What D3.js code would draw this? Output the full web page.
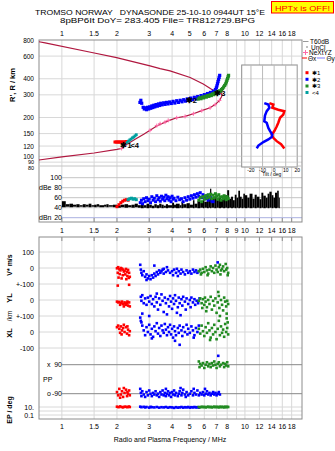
<!DOCTYPE html>
<html><head><meta charset="utf-8">
<script src="https://cdn.jsdelivr.net/npm/d3@7"></script>
<style>body{margin:0;background:#fff} text{font-family:"Liberation Sans",Arial,sans-serif;fill:#000}</style>
</head><body><svg id="c" width="335" height="451"></svg>
<script>
// ---------- tick labels ----------
const freqTicks = [1,1.5,2,3,4,5,6,7,8,10,12,14,16,18];
const freqTicksMid = [1,1.5,2,3,4,5,6,7,8,9,10,12,14,16,18];
const heightTicks = [800,600,400,300,200,150,120,100,90,80];
const dbTicks = [100,80,60,40,20];
const tiltTicks = [-20,-10,0,10,20];

// ---------- top panel: profile (freq MHz, height km) ----------
const profile = [[0.75,93.5],[1.0,99],[1.5,106],[2.0,113],[2.12,115],[2.21,121],[2.5,135],[2.8,148],[3.03,159],[3.3,172],[3.66,184],[3.9,191],[4.24,199],[4.71,204],[5.23,214],[5.81,226],[6.45,238],[6.87,252],[7.25,270],[7.45,290],[7.5,300],[7.4,308],[7.0,316],[6.5,335],[5.92,364],[5.02,409],[3.9,461],[3.44,480],[3.03,503],[1.99,584],[1.48,637],[0.81,761],[0.75,775]];
const neXtYZ = [[2.12,115],[2.21,122],[3.03,159],[3.3,173],[3.44,179],[3.66,184],[3.81,190],[4.24,199],[4.71,204],[5.23,214],[5.81,226],[6.45,238],[6.87,252],[7.25,271]];
const echo1 = [[1.95,129],[1.98,129],[2.01,129],[2.04,129],[2.07,129],[2.1,129],[2.13,129],[2.16,129],[2.19,129],[2.22,129],[2.25,130]];
const echo4 = [[2.27,128],[2.31,131],[2.35,134],[2.39,136],[2.43,139],[2.47,141],[2.51,144],[2.55,147]];
const echo2 = [[2.67,262],[2.7,272],[2.73,258],[2.78,240],[2.82,233],[2.86,238],[2.9,230],[2.94,240],[2.98,233],[3.02,242],[3.06,236],[3.1,246],[3.14,239],[3.18,249],[3.22,242],[3.27,252],[3.32,245],[3.37,255],[3.42,248],[3.47,258],[3.53,251],[3.6,260],[3.66,253],[3.73,262],[3.8,255],[3.88,264],[3.96,257],[4.05,267],[4.14,259],[4.24,270],[4.33,262],[4.43,272],[4.53,265],[4.63,275],[4.73,268],[4.84,279],[4.95,271],[5.06,283],[5.17,275],[5.29,287],[5.4,279],[5.52,291],[5.64,283],[5.76,296],[5.88,288],[6.0,301],[6.12,293],[6.24,307],[6.36,298],[6.48,313],[6.6,304],[6.72,320],[6.84,311],[6.9,330],[6.98,340],[7.03,352],[7.08,366],[7.13,380],[7.18,395],[7.23,410],[7.28,425]];
const echo3 = [[5.55,278],[5.65,284],[5.75,280],[5.85,288],[5.95,284],[6.05,292],[6.15,288],[6.25,296],[6.35,292],[6.45,300],[6.55,296],[6.65,305],[6.75,301],[6.85,310],[6.95,306],[7.05,316],[7.15,312],[7.25,322],[7.35,320],[7.45,330],[7.55,336],[7.65,345],[7.75,355],[7.85,365],[7.92,378],[7.98,390],[8.04,402],[8.1,415],[8.14,425]];
const markers = [["✱1",2.24,122],["<4",2.5,122],["✱2",5.1,272],["✱3",7.3,311]];
// tilt inset (deg, km)
const tiltX = [[-4.1,259],[-0.7,252],[-1.6,238],[3.6,230],[8.8,224],[7.9,211],[5.1,199],[3.6,182],[2.2,170],[0.2,157],[-2.1,147],[-0.7,139],[2.2,131],[6,124],[8.8,115]];
const tiltY = [[-8.5,259],[-5,252],[-4.1,238],[-6.4,224],[-7.9,207],[-8.5,187],[-6.4,182],[-5,166],[-3.5,157],[-1.6,147],[-2.1,141],[-5,135],[-9.3,129],[-13.6,121],[-15,115]];

// ---------- amplitude panel (freq, dB) ----------
const noise = [[1.0,41,53],[1.05,42,47],[1.1,41,48],[1.15,42,46],[1.2,41,47],[1.25,42,45],[1.3,41,47],[1.35,42,46],[1.4,41,48],[1.45,42,45],[1.5,41,46],[1.55,42,47],[1.6,41,45],[1.7,42,46],[1.75,41,47],[1.8,42,45],[1.9,41,46],[2.0,40,45],[2.1,41,46],[2.2,40,47],[2.3,41,45],[2.4,40,46],[2.5,41,48],[2.6,40,45],[2.7,39,47],[2.8,40,45],[2.9,39,48],[3.0,40,46],[3.1,39,44],[3.2,40,47],[3.3,39,45],[3.4,40,48],[3.5,39,46],[3.6,40,44],[3.7,39,47],[3.8,40,45],[4.0,39,50],[4.1,40,46],[4.2,39,48],[4.4,40,45],[4.5,39,52],[4.6,40,47],[4.8,39,49],[5.0,40,46],[5.2,39,55],[5.3,40,48],[5.5,39,53],[5.7,40,50],[5.9,39,58],[6.0,40,52],[6.2,39,60],[6.35,40,56],[6.45,39,78],[6.55,40,58],[6.8,39,62],[7.0,40,55],[7.2,39,63],[7.4,40,57],[7.6,39,60],[7.8,40,65],[8.0,39,75],[8.2,40,58],[8.4,39,62],[8.6,40,55],[8.8,39,66],[9.0,40,60],[9.2,39,74],[9.4,40,62],[9.6,39,58],[9.8,40,68],[10.0,39,65],[10.3,40,60],[10.6,39,68],[11.0,40,58],[11.3,39,66],[11.6,40,62],[12.0,39,57],[12.3,40,70],[12.6,39,64],[13.0,40,60],[13.3,39,68],[13.6,40,72],[14.0,39,65],[14.3,40,60],[14.6,39,70],[15.0,40,74],[15.3,39,60],[15.5,39,39]];
const ampRed = [[2.0,42],[2.05,46],[2.1,50],[2.15,53],[2.2,55],[2.25,56],[2.3,55]];
const ampCyan = [[2.3,56],[2.35,58],[2.4,59],[2.45,57],[2.5,58],[2.55,56]];
const ampBlue = [[2.68,50],[2.72,55],[2.76,48],[2.8,58],[2.85,52],[2.9,60],[2.95,54],[3.0,57],[3.05,50],[3.1,62],[3.15,55],[3.2,59],[3.25,52],[3.3,64],[3.35,56],[3.4,60],[3.45,53],[3.5,63],[3.55,57],[3.6,61],[3.65,54],[3.7,65],[3.75,58],[3.8,62],[3.85,55],[3.9,60],[3.95,52],[4.0,63],[4.05,57],[4.1,59],[4.2,54],[4.3,61],[4.4,56],[4.5,58],[4.6,52],[4.7,60],[4.8,55],[4.9,62],[5.0,57],[5.1,64],[5.2,59],[5.3,66],[5.4,61],[5.5,68],[5.6,63],[5.7,70],[5.8,60],[5.9,66],[6.0,62],[6.1,58],[6.2,64],[6.3,55],[6.5,60],[6.6,53],[6.7,52]];
const ampGreen = [[5.6,55],[5.7,60],[5.8,52],[5.9,62],[6.0,57],[6.1,64],[6.2,59],[6.3,66],[6.4,61],[6.5,67],[6.6,58],[6.7,65],[6.8,60],[6.9,68],[7.0,63],[7.1,57],[7.2,66],[7.3,61],[7.4,55],[7.5,62],[7.6,58],[7.7,64],[7.8,60],[7.9,56],[8.0,62],[8.1,58]];

// ---------- lower panel ----------
const vRed = [[2.0,-2],[2.03,5],[2.06,-8],[2.1,0],[2.13,-4],[2.16,-10],[2.2,-18],[2.24,-6],[2.27,-25],[2.3,-12],[2.33,-30],[2.02,-30],[2.07,-38],[2.15,-45],[2.22,-40],[2.28,-50],[2.35,-55],[2.04,-60],[2.12,-65],[2.25,-70],[2.32,-62],[2.02,-110],[2.33,-105],[2.18,-22],[2.09,-15]];
const vBlue = [[2.68,20],[2.7,-10],[2.72,-30],[2.75,-45],[2.8,-20],[2.85,-55],[2.9,-40],[2.95,-65],[3.0,-50],[3.05,-70],[3.1,-45],[3.15,-60],[3.2,-35],[3.25,-50],[3.3,-25],[3.35,-40],[3.4,-15],[3.45,-30],[3.5,-20],[3.55,-10],[3.6,-35],[3.7,-25],[3.75,5],[3.8,-15],[3.9,-30],[4.0,-20],[4.05,-45],[4.1,-10],[4.2,-30],[4.3,-50],[4.35,-20],[4.45,-35],[4.5,-10],[4.6,-25],[4.7,-40],[4.8,-15],[4.9,-30],[5.0,-20],[5.1,-35],[5.2,-10],[5.3,-25],[5.4,-15],[5.5,-30],[5.6,-20],[3.2,15],[2.9,-75],[3.6,-5],[4.25,-5],[7.1,35]];
const vGreen = [[5.6,-20],[5.7,-10],[5.8,-30],[5.9,-5],[6.0,-25],[6.1,5],[6.2,-15],[6.3,-35],[6.4,-10],[6.5,10],[6.6,-20],[6.7,0],[6.8,-30],[6.9,15],[7.0,-10],[7.1,-25],[7.2,5],[7.3,20],[7.4,-15],[7.5,-5],[7.6,10],[7.7,-20],[7.85,25],[7.9,-10],[8.0,0],[8.1,-30],[8.05,-45],[5.75,-40],[6.25,-45],[7.35,-40]];
const ylRed = [[2.0,-10],[2.03,-15],[2.06,-12],[2.1,-20],[2.13,-10],[2.16,-25],[2.2,-15],[2.24,-30],[2.27,-20],[2.3,-35],[2.33,-15],[2.35,-40],[2.08,-30],[2.18,-40],[2.28,-10],[2.22,-22]];
const ylBlue = [[2.7,20],[2.72,-5],[2.75,30],[2.8,-20],[2.85,10],[2.9,-30],[2.95,15],[3.0,-10],[3.05,25],[3.1,-25],[3.15,5],[3.2,-40],[3.25,20],[3.3,-15],[3.35,-60],[3.4,10],[3.45,-30],[3.5,35],[3.55,-5],[3.6,-75],[3.65,15],[3.7,-20],[3.75,-90],[3.8,5],[3.85,-40],[3.9,25],[3.95,-10],[4.0,-55],[4.05,10],[4.1,-25],[4.15,30],[4.2,-5],[4.3,-45],[4.35,15],[4.4,-20],[4.5,5],[4.55,-35],[4.6,20],[4.7,-10],[4.75,-60],[4.8,10],[4.9,-25],[5.0,0],[5.05,-45],[5.1,15],[5.2,-15],[5.3,5],[5.35,-30],[5.45,-5],[5.55,-20],[5.65,10],[3.0,-100],[2.75,-85],[4.25,-80],[3.3,40],[4.45,-95]];
const ylGreen = [[5.6,-5],[5.7,10],[5.8,-20],[5.9,5],[6.0,-30],[6.05,15],[6.1,-10],[6.2,-45],[6.3,0],[6.4,-25],[6.5,20],[6.6,-60],[6.7,-5],[6.8,-35],[6.9,10],[7.0,-80],[7.1,-15],[7.2,25],[7.25,-50],[7.3,-100],[7.4,0],[7.5,-30],[7.6,-65],[7.7,15],[7.8,-10],[7.9,-40],[8.0,-5],[8.1,-25],[7.15,50],[6.15,-70],[5.85,-50],[7.95,-85]];
const xlRed = [[2.0,30],[2.03,40],[2.06,20],[2.1,35],[2.13,10],[2.16,25],[2.2,0],[2.24,30],[2.27,-10],[2.3,15],[2.33,-20],[2.35,5],[2.08,-5],[2.18,45],[2.28,35],[2.12,-15]];
const xlBlue = [[2.68,90],[2.7,70],[2.72,60],[2.75,40],[2.8,10],[2.85,-20],[2.9,30],[2.95,0],[3.0,45],[3.05,-15],[3.1,20],[3.15,-30],[3.2,35],[3.25,5],[3.3,55],[3.35,-10],[3.4,25],[3.45,-25],[3.5,40],[3.55,10],[3.6,-5],[3.65,50],[3.7,15],[3.75,-20],[3.8,30],[3.85,0],[3.9,45],[3.95,-15],[4.0,20],[4.05,-35],[4.1,35],[4.15,5],[4.2,-20],[4.3,25],[4.35,-5],[4.4,40],[4.5,10],[4.55,-25],[4.6,30],[4.7,0],[4.8,45],[4.85,-15],[4.9,20],[5.0,-5],[5.1,35],[5.2,10],[5.3,-20],[5.4,25],[5.5,0],[5.6,40],[4.15,-55],[4.4,-80],[3.1,-40],[5.25,-35]];
const xlGreen = [[5.6,20],[5.7,-10],[5.8,40],[5.9,5],[6.0,-25],[6.1,30],[6.2,-5],[6.3,55],[6.4,10],[6.5,-35],[6.6,25],[6.7,-15],[6.8,45],[6.9,0],[7.0,-45],[7.1,20],[7.2,70],[7.3,-20],[7.4,35],[7.5,-5],[7.6,15],[7.7,-30],[7.8,50],[7.9,0],[8.0,25],[8.1,-15],[7.95,85],[6.45,-50],[8.05,60]];
const ppGreen = [[5.6,110],[5.65,75],[5.7,95],[5.8,85],[5.9,100],[6.0,70],[6.1,90],[6.2,105],[6.3,80],[6.4,95],[6.5,75],[6.6,100],[6.7,85],[6.8,110],[6.9,90],[7.0,70],[7.1,95],[7.2,105],[7.3,80],[7.4,90],[7.6,100],[7.7,75],[7.8,95],[7.9,85],[8.0,105],[8.1,80]];
const ppRed = [[2.0,-80],[2.03,-100],[2.06,-60],[2.1,-95],[2.13,-75],[2.16,-110],[2.2,-85],[2.24,-65],[2.27,-105],[2.3,-90],[2.33,-70],[2.35,-100],[2.08,-115],[2.18,-55],[2.28,-80]];
const ppBlue = [[2.68,-60],[2.7,-85],[2.72,-105],[2.75,-75],[2.8,-95],[2.85,-110],[2.9,-80],[2.95,-100],[3.0,-70],[3.05,-90],[3.1,-105],[3.15,-85],[3.2,-95],[3.25,-75],[3.3,-100],[3.35,-90],[3.4,-110],[3.45,-80],[3.5,-95],[3.55,-70],[3.6,-100],[3.65,-85],[3.7,-105],[3.75,-90],[3.8,-75],[3.85,-100],[3.9,-85],[3.95,-110],[4.0,-80],[4.05,-95],[4.1,-70],[4.15,-100],[4.2,-85],[4.3,-105],[4.35,-90],[4.4,-75],[4.5,-100],[4.55,-85],[4.6,-65],[4.7,-95],[4.75,-110],[4.8,-80],[4.9,-100],[5.0,-90],[5.1,-75],[5.2,-100],[5.3,-85],[5.4,-95],[5.5,-70],[5.6,-100],[5.7,-85],[5.8,-95],[5.9,-80],[6.0,-100],[6.1,-90],[6.2,-75],[6.3,-95],[6.4,-85],[6.5,-100],[6.6,-90],[6.7,-80],[6.8,-95],[6.9,-85],[7.0,-100],[7.1,-90],[7.2,-80],[7.3,-95],[3.7,-60],[4.45,-55],[5.25,-60],[6.05,-60],[7.15,145]];
const epRed = [[2.0,12],[2.04,9],[2.08,14],[2.12,10],[2.16,8],[2.2,12],[2.24,11],[2.28,9],[2.32,13],[2.35,10]];
const epBlue = [[2.68,12],[2.72,9],[2.8,11],[2.85,8],[2.9,10],[3.0,7],[3.05,11],[3.1,9],[3.2,8],[3.3,10],[3.4,7],[3.5,9],[3.6,8],[3.7,10],[3.8,7],[3.9,9],[4.0,8],[4.1,6],[4.2,9],[4.3,7],[4.4,8],[4.5,10],[4.6,7],[4.7,9],[4.8,8],[4.9,10],[5.0,7],[5.1,9],[5.2,8],[5.3,10],[5.4,8],[5.5,9],[5.6,7]];
const epGreen = [[5.6,10],[5.7,8],[5.8,12],[5.9,9],[6.0,11],[6.1,8],[6.2,10],[6.3,12],[6.4,9],[6.5,11],[6.6,8],[6.7,10],[6.8,12],[6.9,9],[7.0,11],[7.1,10],[7.2,8],[7.3,12],[7.4,9],[7.5,11],[7.6,10],[7.7,8],[7.8,12],[7.9,9],[8.0,11],[8.1,10]];

// ---------- colours ----------
const RED="#ff0000", BLUE="#0000ff", GREEN="#228b22", CYAN="#00a0a0", PROF="#b0173f", PINK="#ff6aa8";
const GRID="#d8d8d8", FRAME="#8c8c8c";

// ---------- scales ----------
const svg = d3.select("#c");
const x = d3.scaleLog().domain([0.75,20.5]).range([39,302]);
const yH = d3.scaleLog().domain([84,800]).range([166,40]);
const yDb = d3.scaleLinear().domain([20,100]).range([217.7,177.7]);
const yV = d3.scaleLinear().domain([-100,100]).range([284,252]);
const yYL = d3.scaleLinear().domain([-100,100]).range([316,284]);
const yXL = d3.scaleLinear().domain([-100,100]).range([348,316]);
const yPP = d3.scaleLinear().domain([-90,90]).range([393.7,364.7]);
const yEP = d3.scaleLog().domain([0.1,10]).range([415,407]);
const xT = d3.scaleLinear().domain([-28,20]).range([241.7,297.3]);

function line(g,x1,y1,x2,y2,c,w){g.append("line").attr("x1",x1).attr("y1",y1).attr("x2",x2).attr("y2",y2).attr("stroke",c).attr("stroke-width",w||1);}
function txt(g,s,tx,ty,size,anchor){return g.append("text").attr("x",tx).attr("y",ty).attr("font-size",size).attr("text-anchor",anchor||"start").text(s);}
function squares(g,data,fx,fy,color,size){
  g.selectAll(null).data(data).enter().append("rect")
   .attr("x",d=>fx(d[0])-size/2).attr("y",d=>fy(d[1])-size/2)
   .attr("width",size).attr("height",size).attr("fill",color);
}

// ---------- title ----------
const g0 = svg.append("g");
txt(g0,"TROMSO NORWAY   DYNASONDE 25-10-10 0944UT 15°E",35,14.5,7.8).style("white-space","pre").attr("textLength",230).attr("lengthAdjust","spacingAndGlyphs");
txt(g0,"8pBP6It DoY= 283.405 File= TR812729.BPG",60,23,7.8).style("white-space","pre").attr("textLength",195).attr("lengthAdjust","spacingAndGlyphs");
g0.append("rect").attr("x",271.5).attr("y",1.5).attr("width",62).attr("height",11.5).attr("fill","#ffff00").attr("stroke","#ff0000").attr("stroke-width",1);
txt(g0,"HPTx is OFF!",302.5,10.6,8,"middle").style("fill","#ff0000").attr("textLength",55).attr("lengthAdjust","spacingAndGlyphs");

// ---------- upper block grid ----------
const gU = svg.append("g");
freqTicksMid.forEach(f=>line(gU,x(f),40,x(f),222,GRID,1));
heightTicks.filter(h=>h<800&&h>=84).forEach(h=>line(gU,39,yH(h),302,yH(h),GRID,1));
dbTicks.forEach(d=>line(gU,62,yDb(d),302,yDb(d),d===20?"#aab0e0":"#c4c4c4",1));
gU.append("rect").attr("x",39).attr("y",40).attr("width",263).attr("height",182).attr("fill","none").attr("stroke",FRAME);
line(gU,39,166,302,166,"#c4c4c4",1);
freqTicks.forEach(f=>txt(gU,String(f),x(f),36,7,"middle"));
freqTicksMid.forEach(f=>{txt(gU,String(f),x(f),232.5,7,"middle");line(gU,x(f),218,x(f),222,FRAME,1);});
heightTicks.forEach(h=>{
  const big = h>=100;
  const yy = h===80 ? 170 : (h===90 ? 163.5 : yH(h)+2.5);
  txt(gU,String(h),34,yy,big?6.5:5.5,"end");
});
txt(gU,"R', R / km",0,0,7.5,"middle").attr("transform","translate(15,85) rotate(-90)").attr("font-weight","bold");
dbTicks.forEach(d=>txt(gU,String(d),62,yDb(d)+2.5,7,"end"));
txt(gU,"dBe",39,yDb(80)+2.5,7);
txt(gU,"dBn",39,yDb(20)+2.5,7);

// ---------- tilt inset ----------
const gI = svg.append("g");
gI.append("rect").attr("x",241.7).attr("y",65).attr("width",55.6).attr("height",102).attr("fill","#fff").attr("stroke",FRAME);
heightTicks.filter(h=>yH(h)>65&&yH(h)<166).forEach(h=>line(gI,241.7,yH(h),297.3,yH(h),GRID,1));
tiltTicks.forEach(t=>{line(gI,xT(t),65,xT(t),167,"#bbbbbb",1);txt(gI,String(t),xT(t),171.5,5,"middle");});
txt(gI,"Tilt / deg",xT(-2),176,5,"middle");
const tl = d3.line().x(d=>xT(d[0])).y(d=>yH(d[1]));
gI.append("path").attr("d",tl(tiltX)).attr("fill","none").attr("stroke",RED).attr("stroke-width",2.5);
gI.append("path").attr("d",tl(tiltY)).attr("fill","none").attr("stroke",BLUE).attr("stroke-width",2.5);

// ---------- top data ----------
const gD = svg.append("g");
const pl = d3.line().x(d=>x(d[0])).y(d=>yH(d[1]));
gD.append("path").attr("d",pl(profile)).attr("fill","none").attr("stroke",PROF).attr("stroke-width",1.2);
gD.selectAll(null).data(neXtYZ).enter().append("path")
  .attr("d",d=>{const cx=x(d[0]),cy=yH(d[1]);return `M${cx-2},${cy}H${cx+2}M${cx},${cy-2}V${cy+2}`;})
  .attr("stroke",PINK).attr("stroke-width",1);
squares(gD,echo2,x,yH,BLUE,3.2);
squares(gD,echo3,x,yH,GREEN,3.2);
squares(gD,echo1,x,yH,RED,3);
squares(gD,echo4,x,yH,CYAN,2.8);
markers.forEach(m=>txt(gD,m[0],x(m[1]),yH(m[2])+3,7.5,"middle").attr("font-weight","bold"));

// amplitude panel
const gA = svg.append("g");
gA.selectAll(null).data(noise.slice(0,-1)).enter().append("rect")
  .attr("x",(d)=>x(d[0])).attr("width",(d,i)=>Math.max(0.8,x(noise[i+1][0])-x(d[0])))
  .attr("y",d=>yDb(d[2])).attr("height",d=>yDb(d[1])-yDb(d[2])).attr("fill","#000");
squares(gA,ampBlue,x,yDb,BLUE,3);
squares(gA,ampGreen,x,yDb,GREEN,3);
squares(gA,ampRed,x,yDb,RED,3);
squares(gA,ampCyan,x,yDb,CYAN,3);

// ---------- legend ----------
const gL = svg.append("g");
line(gL,303,41.5,308.5,41.5,"#999",1); txt(gL,"T60dB",310,44,6.5);
gL.append("rect").attr("x",306.5).attr("y",46.5).attr("width",1).attr("height",1).attr("fill","#000"); txt(gL,"UnCl",311,49.5,6.5);
gL.append("path").attr("d","M303,52.5H308M305.5,50V55").attr("stroke",PINK); txt(gL,"NeXtYZ",309,55,6.5);
line(gL,302,58,307,58,RED,1); txt(gL,"Θx",308,60.5,6.5);
line(gL,317,58,325,58,"#7a7aff",1); txt(gL,"Θy",326.5,60.5,6.5);
[["✱1",RED,72.7],["✱2",BLUE,79.3],["✱3",GREEN,86],["<4",CYAN,92.5]].forEach(l=>{
  gL.append("rect").attr("x",305.5).attr("y",l[2]-1.5).attr("width",3).attr("height",3).attr("fill",l[1]);
  txt(gL,l[0],312,l[2]+2.2,6);
});

// ---------- lower panel ----------
const gB = svg.append("g");
freqTicksMid.forEach(f=>line(gB,x(f),237,x(f),419,GRID,1));
[100,0,-100].forEach(v=>{line(gB,39,yV(v),302,yV(v),GRID,1);});
[0,-100].forEach(v=>line(gB,39,yYL(v),302,yYL(v),GRID,1));
[0,-100].forEach(v=>line(gB,39,yXL(v),302,yXL(v),GRID,1));
[10,1,0.1].forEach(v=>line(gB,39,yEP(v),302,yEP(v),GRID,1));
line(gB,62,yPP(90),302,yPP(90),"#888",1);
line(gB,62,yPP(-90),302,yPP(-90),"#888",1);
gB.append("rect").attr("x",39).attr("y",237).attr("width",263).attr("height",182).attr("fill","none").attr("stroke",FRAME);
freqTicks.forEach(f=>{line(gB,x(f),237,x(f),241,FRAME,1);txt(gB,String(f),x(f),428.5,7,"middle");});
txt(gB,"Radio and Plasma Frequency / MHz",170,441.5,7,"middle");
txt(gB,"100",34,yV(100)+2.5,7,"end");
txt(gB,"0",34,yV(0)+2.5,7,"end");
txt(gB,"+-100",34,yV(-100)+2.5,7,"end");
txt(gB,"0",34,yYL(0)+2.5,7,"end");
txt(gB,"+-100",34,yYL(-100)+2.5,7,"end");
txt(gB,"0",34,yXL(0)+2.5,7,"end");
txt(gB,"-100",34,yXL(-100)+2.5,7,"end");
txt(gB,"x",47,yPP(90)+2.5,7); txt(gB,"90",62,yPP(90)+2.5,7,"end");
txt(gB,"PP",43,yPP(0)+2.5,7);
txt(gB,"o",47,yPP(-90)+2.5,7); txt(gB,"-90",62,yPP(-90)+2.5,7,"end");
txt(gB,"10.",34,yEP(10)+2.5,7,"end");
txt(gB,"0.1",34,yEP(0.1)+2.5,7,"end");
txt(gB,"V* m/s",0,0,7,"middle").attr("transform","translate(12,265) rotate(-90)").attr("font-weight","bold");
txt(gB,"YL",0,0,7.5,"middle").attr("transform","translate(12,298) rotate(-90)").attr("font-weight","bold");
txt(gB,"/km",0,0,6.5,"middle").attr("transform","translate(12,316) rotate(-90)");
txt(gB,"XL",0,0,7.5,"middle").attr("transform","translate(12,333) rotate(-90)").attr("font-weight","bold");
txt(gB,"EP / deg",0,0,7,"middle").attr("transform","translate(12,410) rotate(-90)").attr("font-weight","bold");
const S=2.6;
squares(gB,vBlue,x,yV,BLUE,S); squares(gB,vGreen,x,yV,GREEN,S); squares(gB,vRed,x,yV,RED,S);
squares(gB,ylBlue,x,yYL,BLUE,S); squares(gB,ylGreen,x,yYL,GREEN,S); squares(gB,ylRed,x,yYL,RED,S);
squares(gB,xlBlue,x,yXL,BLUE,S); squares(gB,xlGreen,x,yXL,GREEN,S); squares(gB,xlRed,x,yXL,RED,S);
squares(gB,ppBlue,x,yPP,BLUE,S); squares(gB,ppGreen,x,yPP,GREEN,S); squares(gB,ppRed,x,yPP,RED,S);
squares(gB,epBlue,x,yEP,BLUE,S); squares(gB,epGreen,x,yEP,GREEN,S); squares(gB,epRed,x,yEP,RED,S);
</script></body></html>
